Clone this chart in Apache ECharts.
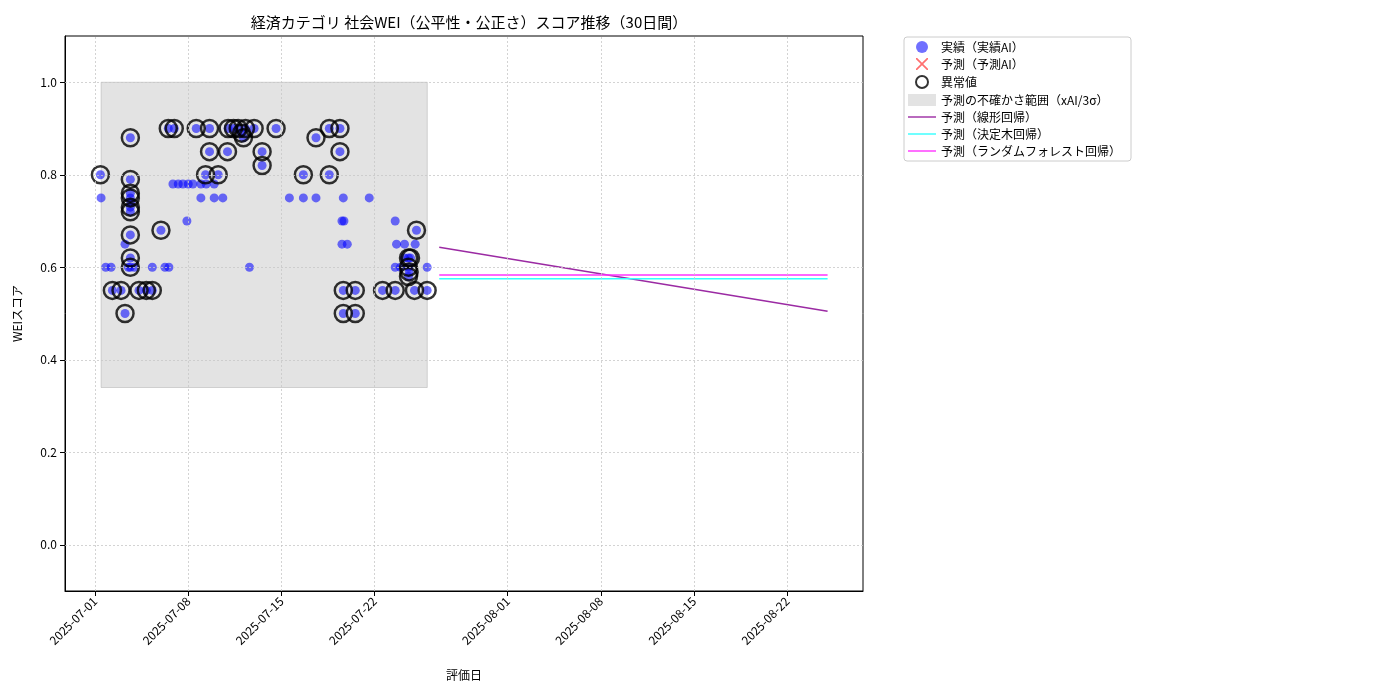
<!DOCTYPE html>
<html><head><meta charset="utf-8">
<script src="https://cdn.jsdelivr.net/npm/echarts@6/dist/echarts.min.js"></script>
<style>body{margin:0;background:#fff}#c{width:1400px;height:700px}</style>
</head><body><div id="c"></div>
<script>
// day offsets from 2025-07-01, value
var normalPoints = [[0.45,0.75],[0.8,0.60],[1.2,0.60],[2.25,0.65],[2.5,0.60],[2.7,0.74],[2.95,0.60],[4.3,0.60],[5.25,0.60],[5.55,0.60],
	[5.85,0.78],[6.25,0.78],[6.6,0.78],[7.0,0.78],[7.35,0.78],[6.9,0.70],[7.95,0.75],[7.95,0.78],[8.35,0.78],[8.95,0.75],[8.95,0.78],
	[9.6,0.75],[11.6,0.60],[14.6,0.75],[15.65,0.75],[16.6,0.75],[18.55,0.70],[18.7,0.70],[18.65,0.75],[18.55,0.65],[18.95,0.65],
	[20.6,0.75],[22.55,0.70],[22.65,0.65],[23.25,0.65],[22.55,0.60],[22.95,0.60],[24.05,0.65],[24.95,0.60],[23.25,0.62]];
var anomalyPoints = [[0.4,0.80],[1.3,0.55],[1.95,0.55],[2.25,0.50],[2.65,0.88],[2.65,0.79],[2.65,0.76],[2.65,0.75],[2.65,0.73],[2.65,0.72],
	[2.65,0.67],[2.65,0.62],[2.65,0.60],[3.3,0.55],[3.85,0.55],[4.3,0.55],[4.95,0.68],[5.5,0.90],[5.95,0.90],[7.6,0.90],[8.3,0.80],
	[8.6,0.90],[8.6,0.85],[9.25,0.80],[9.95,0.85],[10.0,0.90],[10.4,0.90],[10.75,0.90],[11.0,0.89],[11.15,0.88],[11.3,0.90],
	[11.95,0.90],[12.55,0.85],[12.55,0.82],[13.6,0.90],[15.65,0.80],[16.6,0.88],[17.6,0.80],[17.6,0.90],[18.4,0.90],[18.4,0.85],
	[18.65,0.55],[18.65,0.50],[19.55,0.55],[19.55,0.50],[21.6,0.55],[22.55,0.55],[23.55,0.62],[23.55,0.60],[23.55,0.58],[23.6,0.59],
	[24.0,0.55],[24.15,0.68],[24.95,0.55],[23.7,0.62]];
var bandX = [0.45, 24.96];
var bandY = [0.34, 1.0];
var linearLine = [[25.86,0.643],[55.04,0.505]];
var treeLine = [[25.86,0.575],[55.04,0.575]];
var forestLine = [[25.86,0.583],[55.04,0.583]];
var xTickDays = [0,7,14,21,31,38,45,52];
var yTicks = [0,0.2,0.4,0.6,0.8,1.0];

var base = Date.UTC(2025,6,1);
var DAY = 86400000;
function dayLabel(d){
	var t = new Date(base + Math.round(d)*DAY);
	var m = t.getUTCMonth()+1, dd = t.getUTCDate();
	return t.getUTCFullYear() + '-' + (m<10?'0':'') + m + '-' + (dd<10?'0':'') + dd;
}

var font = 'Noto Sans CJK JP';
var chart = echarts.init(document.getElementById('c'));
var lineIcon = 'path://M0,5L30,5L30,6.5L0,6.5Z';

chart.setOption({
	animation: false,
	textStyle: {fontFamily: font},
	title: {text:'経済カテゴリ 社会WEI（公平性・公正さ）スコア推移（30日間）', left:464, top:10, textAlign:'center',
		textStyle:{fontSize:15, fontWeight:'normal', color:'#000', fontFamily:font}},
	grid: {left:65, right:537, top:36, bottom:109},
	legend: {
		orient:'vertical', left:904, top:37, itemGap:5, itemWidth:28, itemHeight:12,
		borderColor:'#ccc', borderWidth:1, borderRadius:3, padding:[4,10,4,4],
		textStyle:{fontSize:12, color:'#000'},
		data:[
			{name:'実績（実績AI）', icon:'circle'},
			{name:'予測（予測AI）', icon:'path://M0,0L2,0L10,8L18,0L20,0L20,2L12,10L20,18L20,20L18,20L10,12L2,20L0,20L0,18L8,10L0,2Z'},
			{name:'異常値', icon:'circle'},
			{name:'予測の不確かさ範囲（xAI/3σ）', icon:'rect'},
			{name:'予測（線形回帰）', icon:lineIcon},
			{name:'予測（決定木回帰）', icon:lineIcon},
			{name:'予測（ランダムフォレスト回帰）', icon:lineIcon}
		]
	},
	xAxis: {
		type:'value', min:-2.26, max:57.7,
		axisLine:{show:true, onZero:false, lineStyle:{color:'#000'}},
		axisTick:{show:true, customValues: xTickDays, lineStyle:{color:'#000'}},
		axisLabel:{customValues: xTickDays, rotate:45, color:'#000', fontSize:12, formatter:function(v){ return dayLabel(v); }},
		splitLine:{show:false},
		name:'評価日', nameLocation:'middle', nameGap:78, nameTextStyle:{fontSize:12, color:'#000'}
	},
	yAxis: {
		type:'value', min:-0.1, max:1.1,
		axisLine:{show:true, onZero:false, lineStyle:{color:'#000'}},
		axisTick:{show:true, customValues:yTicks, lineStyle:{color:'#000'}},
		axisLabel:{customValues:yTicks, color:'#000', fontSize:12, formatter:function(v){ return v.toFixed(1); }},
		splitLine:{show:false},
		name:'WEIスコア', nameLocation:'middle', nameGap:42, nameTextStyle:{fontSize:12, color:'#000'}
	},
	series: [
		{
			name:'予測の不確かさ範囲（xAI/3σ）', type:'line', data:[], itemStyle:{color:'rgba(128,128,128,0.22)'},
			markArea:{silent:true, itemStyle:{color:'rgba(128,128,128,0.22)', borderColor:'rgba(128,128,128,0.3)', borderWidth:1},
				data:[[{xAxis: bandX[0], yAxis: bandY[0]}, {xAxis: bandX[1], yAxis: bandY[1]}]]},
			markLine:{silent:true, symbol:'none', label:{show:false}, lineStyle:{color:'#c8c8c8', type:[2,2], width:0.8},
				data: xTickDays.map(function(t){ return {xAxis:t}; }).concat(yTicks.map(function(v){ return {yAxis:v}; }))}
		},
		{name:'実績（実績AI）', type:'scatter', symbolSize:9, itemStyle:{color:'rgba(0,0,255,0.7)'},
			data: normalPoints.concat(anomalyPoints), z:3},
		{name:'予測（予測AI）', type:'scatter', data:[], itemStyle:{color:'rgba(255,0,0,0.7)'}},
		{name:'異常値', type:'scatter', symbolSize:17, data: anomalyPoints, z:4,
			itemStyle:{color:'rgba(0,0,0,0)', borderColor:'#000', borderWidth:2.5}},
		{name:'予測（線形回帰）', type:'line', showSymbol:false, data: linearLine, lineStyle:{color:'#9b2aa3', width:1.5}, itemStyle:{color:'#9b2aa3'}},
		{name:'予測（決定木回帰）', type:'line', showSymbol:false, data: treeLine, lineStyle:{color:'#33ffff', width:1.5}, itemStyle:{color:'#33ffff'}},
		{name:'予測（ランダムフォレスト回帰）', type:'line', showSymbol:false, data: forestLine, lineStyle:{color:'#ff33ff', width:1.5}, itemStyle:{color:'#ff33ff'}}
	],
	graphic:[{type:'rect', shape:{x:65,y:36,width:798,height:555}, style:{fill:'none', stroke:'#000', lineWidth:1}, silent:true}]
});
</script></body></html>
